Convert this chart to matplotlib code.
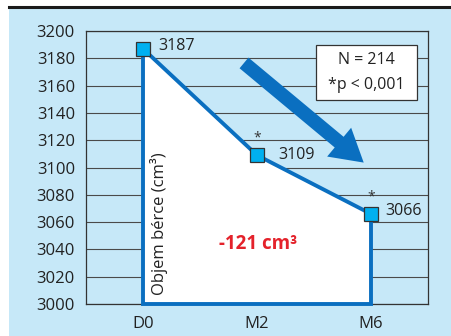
import matplotlib
matplotlib.use("Agg")
import matplotlib.pyplot as plt
from matplotlib.patches import Rectangle, FancyArrowPatch
from matplotlib.lines import Line2D

plt.rcParams['font.family'] = ['Open Sans', 'DejaVu Sans']

# Data
timepoints = ["D0", "M2", "M6"]
volumes = [3187, 3109, 3066]
significant = [False, True, True]
y_ticks = [3000, 3020, 3040, 3060, 3080, 3100, 3120, 3140, 3160, 3180, 3200]
n_patients = 214
change_label = "-121 cm³"

BG = '#c6e8f8'
LINE_BLUE = '#0a6fc0'
MARKER_BLUE = '#00b0f0'
GRID = '#4a4a4a'

fig = plt.figure(figsize=(4.51, 3.36), dpi=100)
fig.patch.set_facecolor('white')

# light panel behind the chart with a rule along its top
fig.patches.append(Rectangle((9 / 451, 0), 1 - 9 / 451, 1 - 8 / 336,
                             transform=fig.transFigure, facecolor=BG,
                             edgecolor='none', zorder=-10))
fig.lines.append(Line2D([9 / 451, 1], [1 - 7 / 336, 1 - 7 / 336],
                        transform=fig.transFigure, color='#1a1a1a', lw=2.2,
                        zorder=-9))

ax = fig.add_axes([86 / 451, 32 / 336, 342 / 451, 273 / 336])
ax.set_zorder(1)
ax.set_facecolor(BG)

x = list(range(len(timepoints)))
ax.set_xlim(-0.5, len(timepoints) - 0.5)
ax.set_ylim(y_ticks[0], y_ticks[-1])
ax.set_yticks(y_ticks)
ax.set_xticks(x)
ax.set_xticklabels(timepoints)
ax.tick_params(length=0, labelsize=12, colors='#222222')
ax.tick_params(axis='y', pad=8)
ax.tick_params(axis='x', pad=9)
for s in ax.spines.values():
    s.set_color('#333333')
    s.set_linewidth(0.9)
ax.grid(axis='y', color=GRID, lw=0.8, zorder=1)
ax.set_axisbelow(True)

# area under the curve down to the baseline
poly_x = [x[0]] + x + [x[-1]]
poly_y = [y_ticks[0]] + volumes + [y_ticks[0]]
ax.fill(poly_x, poly_y, facecolor='white', edgecolor=LINE_BLUE,
        linewidth=2.8, joinstyle='miter', zorder=3, clip_on=False)
ax.plot(x, volumes, linestyle='none', marker='s', markersize=9.5,
        markerfacecolor=MARKER_BLUE, markeredgecolor='#333333',
        markeredgewidth=0.9, zorder=5, clip_on=False)

offsets = [(11, 2), (15, 0), (10, 2)]
for xi, v, off in zip(x, volumes, offsets):
    ax.annotate(str(v), (xi, v), xytext=off, textcoords='offset points',
                ha='left', va='center', fontsize=11.5, color='#222222', zorder=6)
for xi, v, sig in zip(x, volumes, significant):
    if sig:
        ax.annotate('*', (xi, v), xytext=(0, 7), textcoords='offset points',
                    ha='center', va='bottom', fontsize=10, color='#333333', zorder=6)

# trend arrow
arrow = FancyArrowPatch((0.462, 0.883), (0.812, 0.518), transform=ax.transAxes,
                        arrowstyle='simple,head_length=2.3,head_width=2.7,tail_width=1.0',
                        mutation_scale=10, shrinkA=0, shrinkB=0,
                        facecolor=LINE_BLUE, edgecolor='none', zorder=4)
ax.add_patch(arrow)

# legend-style box with sample size and significance
ax.add_patch(Rectangle((0.672, 0.747), 0.295, 0.202, transform=ax.transAxes,
                       facecolor='white', edgecolor='#333333', lw=0.9, zorder=6))
ax.text(0.8195, 0.895, f"N = {n_patients}", transform=ax.transAxes,
        ha='center', va='center', fontsize=11.5, color='#222222', zorder=7)
ax.text(0.8195, 0.803, "*p < 0,001", transform=ax.transAxes,
        ha='center', va='center', fontsize=11.5, color='#222222', zorder=7)

ax.text(0.213, 0.033, "Objem bérce (cm³)", transform=ax.transAxes,
        rotation=90, ha='center', va='bottom', fontsize=12,
        color='#222222', zorder=6)
ax.text(0.503, 0.22, change_label, transform=ax.transAxes,
        ha='center', va='center', fontsize=13.5, fontweight='bold',
        color='#e4222b', zorder=6)

fig.savefig('out.png', dpi=100, facecolor=fig.get_facecolor())
